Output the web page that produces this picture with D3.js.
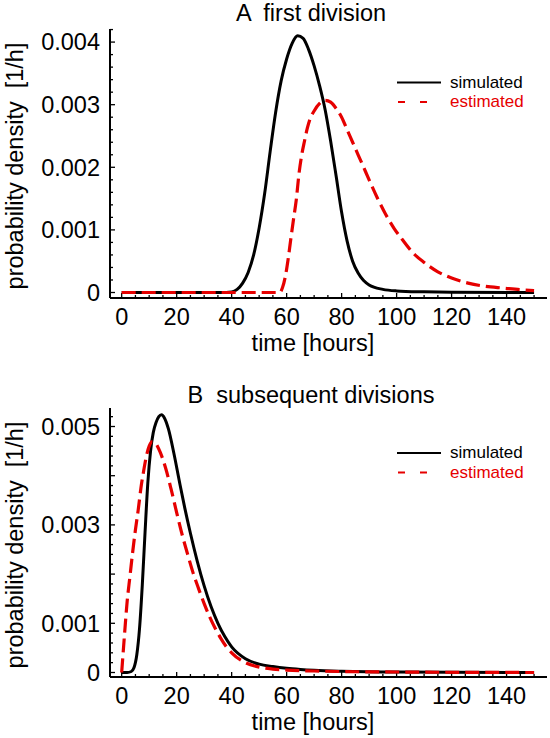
<!DOCTYPE html>
<html><head><meta charset="utf-8">
<script src="https://cdn.jsdelivr.net/npm/d3@7"></script>
<style>
html,body{margin:0;padding:0;background:#fff;}
svg{display:block;font-family:"Liberation Sans",Arial,Helvetica,sans-serif;}
</style></head>
<body><svg id="c" width="550" height="738"></svg>
<script>
// ---------- data (time in hours, density in 1/h) ----------
const titleA = "A  first division";
const titleB = "B  subsequent divisions";
const seriesNames = ["simulated", "estimated"];

const timeA_sim = [0,10,20,30,36,40,42,44,46,48,50,52,54,56,58,60,62,64,66,68,70,72,74,76,78,80,82,84,86,88,90,95,100,110,120,150];
const densA_sim = [0,0,0,0,0,0.00001,0.00005,0.00015,0.00032,0.0006,0.00103,0.00158,0.00225,0.00288,0.00338,0.00373,0.00398,0.0041,0.00406,0.00388,0.00362,0.0033,0.00292,0.00242,0.00186,0.00128,0.00082,0.0005,0.00031,0.00019,0.00012,0.00005,0.000025,0.00001,0.000003,0];

const timeA_est = [0,20,40,55,57.5,58.5,59.5,60.5,61.5,62.5,63.5,64.5,65.5,66.5,67.5,68.5,70,72,74,76,78,80,82,84,86,88,90,93,96,99,102,106,110,115,120,126,132,139,145,150];
const densA_est = [0,0,0,0,0,0.00008,0.00025,0.00052,0.00085,0.00117,0.00148,0.0019,0.0022,0.00242,0.00262,0.00277,0.0029,0.00302,0.00307,0.00304,0.00294,0.0028,0.0026,0.0024,0.0022,0.002,0.0018,0.00151,0.00125,0.00103,0.00085,0.00063,0.00048,0.00033,0.00023,0.00015,0.0001,0.00007,0.000045,0.00003];

const timeB_sim = [0,2,3.5,4.5,5.5,6.5,7.5,8.5,9.5,10.5,11.5,12.5,13.5,14.5,15.5,17,19,21,23,25,27.5,30,32.5,35,37.5,40,45,50,55,60,65,70,80,100,150];
const densB_sim = [0,0,0.00002,0.0001,0.00036,0.0009,0.00178,0.00285,0.00385,0.0045,0.00488,0.00508,0.0052,0.00524,0.00518,0.00495,0.00445,0.00388,0.00333,0.00283,0.00226,0.00176,0.00134,0.001,0.00073,0.00052,0.00028,0.00017,0.00012,0.000085,0.000062,0.000045,0.000025,0.000008,0];

const timeB_est = [0,1,2,3,4,5,6,7,8,9,10,11,12,13,14,16,18,20,22,24,26,28,30,32,34,36,38,40,45,50,55,60,70,80,100,150];
const densB_est = [0,0.00075,0.00145,0.00195,0.00245,0.0029,0.0033,0.00375,0.0041,0.0044,0.0046,0.00469,0.00468,0.0046,0.00448,0.00415,0.00372,0.00325,0.0028,0.0024,0.00202,0.0017,0.0014,0.00113,0.0009,0.0007,0.00053,0.0004,0.0002,0.00011,0.00007,0.00005,0.00003,0.00002,0.00001,0];

const xTicks = [0,20,40,60,80,100,120,140];
const yTicksA = [0,0.001,0.002,0.003,0.004];
const yLabelsA = ["0","0.001","0.002","0.003","0.004"];
const yTicksB = [0,0.001,0.003,0.005];
const yLabelsB = ["0","0.001","0.003","0.005"];

// ---------- drawing ----------
const svg = d3.select("#c");
const RED = "#e60000";
const FS = 23.5;

function panel(cfg){
  const g = svg.append("g");
  const x = d3.scaleLinear().domain([-4.25,154.7]).range([110,547]);
  const y = d3.scaleLinear().domain(cfg.yDomain).range([cfg.bottom, cfg.top]);

  // axes lines
  g.append("line").attr("x1",110).attr("x2",547).attr("y1",cfg.bottom).attr("y2",cfg.bottom)
    .attr("stroke","#000").attr("stroke-width",2);
  g.append("line").attr("x1",110).attr("x2",110).attr("y1",cfg.bottom).attr("y2",cfg.top)
    .attr("stroke","#000").attr("stroke-width",2);

  // x ticks (inward)
  const xMinor = d3.range(0,155,5);
  g.selectAll(".xt").data(xMinor).join("line")
    .attr("x1",d=>x(d)).attr("x2",d=>x(d))
    .attr("y1",cfg.bottom).attr("y2",d=> cfg.bottom-(d%20===0?5:3))
    .attr("stroke","#000").attr("stroke-width",1.3);
  g.selectAll(".xl").data(xTicks).join("text")
    .attr("x",d=>x(d)).attr("y",cfg.bottom+27)
    .attr("text-anchor","middle").attr("font-size",FS).text(d=>d);

  // y ticks (inward)
  const yMinor = d3.range(0, cfg.yDomain[1], 0.0002);
  g.selectAll(".yt").data(yMinor).join("line")
    .attr("x1",110).attr("x2",(d,i)=>110+(i%5===0?5:3))
    .attr("y1",d=>y(d)).attr("y2",d=>y(d))
    .attr("stroke","#000").attr("stroke-width",1.3);
  g.selectAll(".yl").data(cfg.yTicks).join("text")
    .attr("x",100).attr("y",d=>y(d)).attr("dy","0.35em")
    .attr("text-anchor","end").attr("font-size",FS).text((d,i)=>cfg.yLabels[i]);

  // titles
  g.append("text").attr("x",311).attr("y",cfg.titleY).attr("text-anchor","middle")
    .attr("font-size",FS).style("white-space","pre").text(cfg.title);
  g.append("text").attr("x",313).attr("y",cfg.xTitleY).attr("text-anchor","middle")
    .attr("font-size",FS).text("time [hours]");
  g.append("text").attr("transform",`translate(23,${cfg.yTitleY}) rotate(-90)`)
    .attr("text-anchor","middle").attr("font-size",FS)
    .style("white-space","pre").text("probability density  [1/h]");

  // curves
  const line = d3.line().x(d=>x(d[0])).y(d=>y(d[1])).curve(d3.curveMonotoneX);
  g.append("path").datum(d3.zip(cfg.simT,cfg.simV)).attr("d",line)
    .attr("fill","none").attr("stroke","#000").attr("stroke-width",3).attr("stroke-linejoin","round");
  g.append("path").datum(d3.zip(cfg.estT,cfg.estV)).attr("d",line)
    .attr("fill","none").attr("stroke",RED).attr("stroke-width",3.2).attr("stroke-dasharray","14,6");

  // legend
  const L = cfg.legend;
  g.append("line").attr("x1",397).attr("x2",441).attr("y1",L.y1).attr("y2",L.y1)
    .attr("stroke","#000").attr("stroke-width",2);
  g.append("text").attr("x",450).attr("y",L.y1+5).attr("font-size",17).text(seriesNames[0]);
  g.append("line").attr("x1",398).attr("x2",441).attr("y1",L.y2).attr("y2",L.y2)
    .attr("stroke",RED).attr("stroke-width",2).attr("stroke-dasharray","7,15");
  g.append("text").attr("x",450).attr("y",L.y2+5).attr("font-size",17).attr("fill",RED).text(seriesNames[1]);
}

panel({title:titleA, titleY:21, top:29, bottom:298, yDomain:[-0.0000879,0.004209],
  yTicks:yTicksA, yLabels:yLabelsA, xTitleY:351, yTitleY:166,
  simT:timeA_sim, simV:densA_sim, estT:timeA_est, estV:densA_est,
  legend:{y1:82.5,y2:102}});
panel({title:titleB, titleY:403, top:408, bottom:677, yDomain:[-0.0000915,0.005376],
  yTicks:yTicksB, yLabels:yLabelsB, xTitleY:730, yTitleY:545,
  simT:timeB_sim, simV:densB_sim, estT:timeB_est, estV:densB_est,
  legend:{y1:453,y2:472.5}});
</script></body></html>
